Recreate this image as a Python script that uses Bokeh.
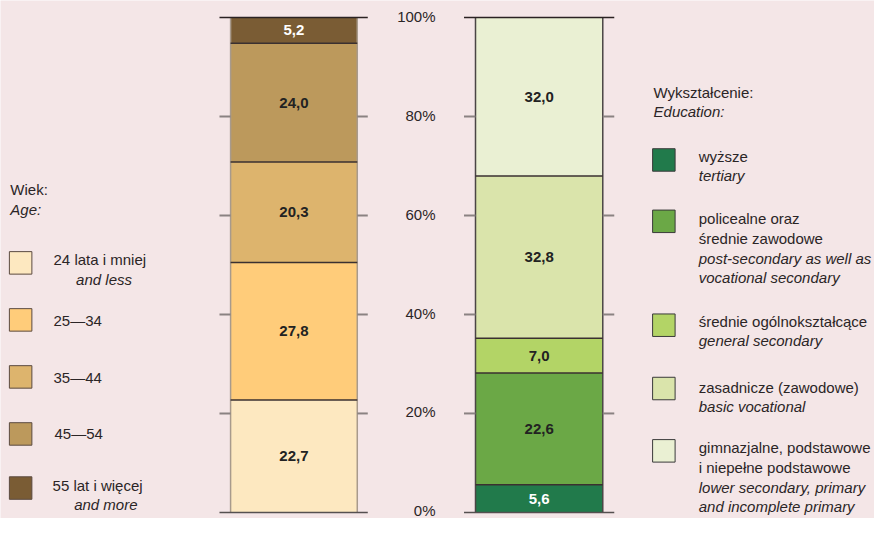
import numpy as np
from bokeh.plotting import figure
from bokeh.models import Range1d
from bokeh.core.properties import value
from bokeh.embed import file_html
from bokeh.resources import INLINE

# ---------------- data ----------------
age_names_pl = ["24 lata i mniej", "25\u201434", "35\u201444", "45\u201454", "55 lat i wi\u0119cej"]
age_names_en = ["and less", "", "", "", "and more"]
age_values = [22.7, 27.8, 20.3, 24.0, 5.2]
age_colors = ["#fde8c0", "#ffcc7a", "#ddb46d", "#bc995c", "#7a5c34"]

edu_names_pl = [["wy\u017csze"], ["policealne oraz", "\u015brednie zawodowe"], ["\u015brednie og\u00f3lnokszta\u0142c\u0105ce"],
                ["zasadnicze (zawodowe)"], ["gimnazjalne, podstawowe", "i niepe\u0142ne podstawowe"]]
edu_names_en = [["tertiary"], ["post-secondary as well as", "vocational secondary"], ["general secondary"],
                ["basic vocational"], ["lower secondary, primary", "and incomplete primary"]]
edu_values = [5.6, 22.6, 7.0, 32.8, 32.0]
edu_colors = ["#217a4b", "#6ba846", "#b3d466", "#dae4ab", "#eaf0d3"]

tick_values = [0, 20, 40, 60, 80, 100]
tick_labels = ["0%", "20%", "40%", "60%", "80%", "100%"]

# ---------------- style / layout ----------------
BG = "#f4e6e7"
FONT = "Liberation Sans"
TXT = "#2b2526"
FS = "15px"
Y100, Y0 = 17.7, 529.7          # layout rows (0..534 space) of 100% and 0%


def sy(y):
    return (Y0 - y) * 100.0 / (Y0 - Y100)


W, H = 874, 518
p = figure(width=W, height=H, x_range=Range1d(0, 890), y_range=Range1d(sy(536), sy(0)),
           output_backend="svg", toolbar_location=None, min_border=0,
           x_axis_location=None, y_axis_location=None,
           background_fill_color=BG, border_fill_color=BG, outline_line_color=None)
p.grid.visible = False


def fmt(v):
    return f"{v:.1f}".replace(".", ",")


def draw_bar(xc, vals, cols, edge_col, tick_l, tick_r, dark_idx, bw):
    vals = np.array(vals)
    tops = np.cumsum(vals)
    bots = tops - vals
    p.vbar(x=[xc] * len(vals), bottom=bots, top=tops, width=bw, fill_color=cols, line_color=None)
    x0, x1 = xc - bw / 2, xc + bw / 2
    # side edges
    p.segment(x0=[x0, x1], y0=[0, 0], x1=[x0, x1], y1=[100, 100], line_color=edge_col, line_width=1.5)
    # inner boundaries
    inner = tops[:-1]
    p.segment(x0=[x0] * len(inner), y0=inner, x1=[x1] * len(inner), y1=inner, line_color="#3a3030", line_width=1.5)
    # ticks
    mids = [t for t in tick_values if 0 < t < 100]
    p.segment(x0=[tick_l] * len(mids), y0=mids, x1=[x0] * len(mids), y1=mids, line_color="#8a8282", line_width=2)
    p.segment(x0=[x1] * len(mids), y0=mids, x1=[tick_r] * len(mids), y1=mids, line_color="#8a8282", line_width=2)
    p.segment(x0=[tick_l, tick_l], y0=[100, 0], x1=[tick_r, tick_r], y1=[100, 0],
              line_color=["#2a2222", "#555050"], line_width=1.5)
    # value labels
    labs = [fmt(v) for v in vals]
    tcol = ["white" if i == dark_idx else "#222222" for i in range(len(vals))]
    p.text(x=[xc] * len(vals), y=(tops + bots) / 2, text=labs, text_color=tcol,
           text_font=value(FONT), text_font_style="bold", text_font_size=FS,
           text_align="center", text_baseline="middle")


draw_bar(298.8, age_values, age_colors, "#a89a8c", 223, 374, 4, 129)
draw_bar(548.5, edu_values, edu_colors, "#4a4545", 472, 625, 0, 129.6)

# axis tick labels
p.text(x=[443] * len(tick_values), y=[v + 0.3 for v in tick_values], text=tick_labels, text_color=TXT,
       text_font=value(FONT), text_font_size=FS, text_align="right", text_baseline="middle")


def txt(x, y, s, italic=False):
    p.text(x=[x], y=[sy(y)], text=[s], text_color=TXT, text_font=value(FONT),
           text_font_style="italic" if italic else "normal", text_font_size=FS,
           text_align="left", text_baseline="middle")


# left legend
txt(10, 196, "Wiek:")
txt(10, 216, "Age:", italic=True)
sq_y = [271.5, 330.5, 389.5, 448.5, 504.5]
p.scatter(x=[20.5] * 5, y=[sy(v) for v in sq_y], marker="square", size=22.5, fill_color=age_colors,
          line_color="#5a4a40", line_width=1)
pl_y = [268, 331, 390, 448, 502]
pl_x = [54, 54, 54, 55, 53]
en_pos = [(77, 289), None, None, None, (75, 522)]
for i in range(5):
    txt(pl_x[i], pl_y[i], age_names_pl[i])
    if age_names_en[i]:
        txt(en_pos[i][0], en_pos[i][1], age_names_en[i], italic=True)

# right legend
txt(665, 95, "Wykszta\u0142cenie:")
txt(665, 115, "Education:", italic=True)
esq_y = [165, 228.5, 336, 401.5, 466]
p.scatter(x=[675.5] * 5, y=[sy(v) for v in esq_y], marker="square", size=22.5, fill_color=edu_colors,
          line_color="#3a3a3a", line_width=1)
first_y = [161, 226, 332, 400, 463]
for i in range(5):
    y = first_y[i]
    for s in edu_names_pl[i]:
        txt(711, y, s)
        y += 20.3
    for s in edu_names_en[i]:
        txt(711, y, s, italic=True)
        y += 20.3

open("out.html", "w").write(file_html(p, INLINE))
